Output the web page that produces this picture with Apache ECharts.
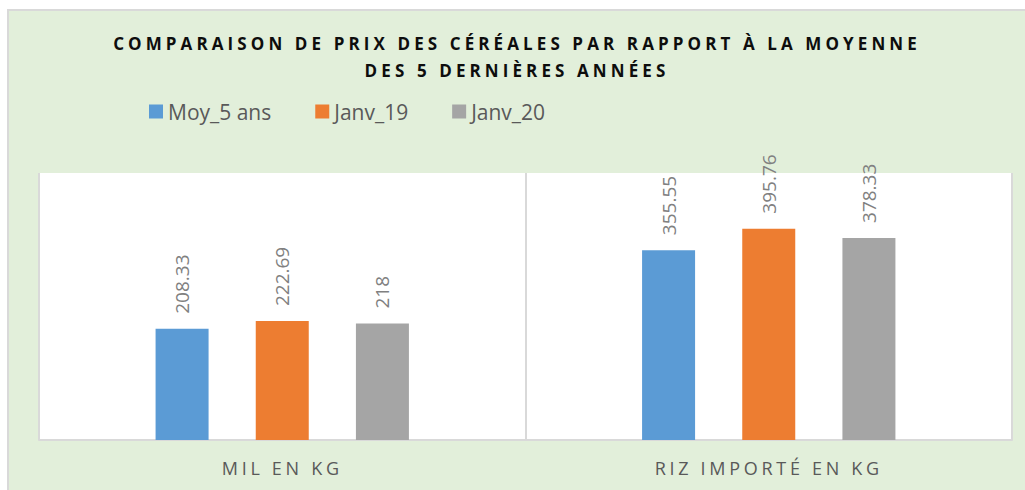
<!DOCTYPE html>
<html>
<head>
<meta charset="utf-8">
<script src="https://cdn.jsdelivr.net/npm/echarts@6/dist/echarts.min.js"></script>
<style>
  html, body { margin: 0; padding: 0; background: #fff; }
  #chart {
    position: absolute; left: 7px; top: 9px;
    width: 1016px; height: 479px;
    border-left: 2px solid #d9d9d9; border-top: 2px solid #d9d9d9;
    background: #e2efda;
  }
</style>
</head>
<body>
<div id="chart"></div>
<script>
const categories = ['MIL EN KG', 'RIZ IMPORTÉ EN KG'];
const seriesNames = ['Moy_5 ans', 'Janv_19', 'Janv_20'];
const moy5Ans = [208.33, 355.55];
const janv19 = [222.69, 395.76];
const janv20 = [218, 378.33];
const colors = ['#5b9bd5', '#ed7d31', '#a5a5a5'];

const titleLines = ['COMPARAISON DE PRIX DES CÉRÉALES PAR RAPPORT À LA MOYENNE', 'DES 5 DERNIÈRES ANNÉES'];

// echarts has no letter spacing, so it's patched onto the svg text afterwards
const spacing = {};
titleLines.forEach(t => spacing[t] = 4.1);
categories.forEach(t => spacing[t] = 3.7);

var chart = echarts.init(document.getElementById('chart'), null, { renderer: 'svg' });

function bar(name, data, i) {
  return {
    name: name,
    type: 'bar',
    data: data,
    barWidth: 53,
    barGap: '89%',
    itemStyle: { color: colors[i] },
    label: {
      show: true,
      position: 'top',
      rotate: 90,
      align: 'left',
      verticalAlign: 'middle',
      distance: 15,
      fontFamily: 'Open Sans',
      fontSize: 19,
      color: '#808080'
    }
  };
}

chart.setOption({
  animation: false,
  title: {
    text: titleLines.join('\n'),
    left: 'center',
    top: 14,
    padding: [5, 0, 5, 12],
    textStyle: {
      fontFamily: 'Open Sans',
      fontWeight: 'bold',
      fontSize: 17,
      lineHeight: 27,
      color: '#0d0d0d'
    }
  },
  legend: {
    left: 135,
    top: 85,
    icon: 'rect',
    itemWidth: 14,
    itemHeight: 14,
    itemGap: 44,
    textStyle: { fontFamily: 'Open Sans', fontSize: 21, color: '#595959' },
    data: seriesNames
  },
  grid: {
    left: 30, top: 162, width: 973, height: 267,
    show: true, backgroundColor: '#fff', borderWidth: 0
  },
  xAxis: {
    type: 'category',
    data: categories,
    axisLine: { lineStyle: { color: '#d9d9d9', width: 2 } },
    axisTick: { show: false },
    splitLine: { show: true, lineStyle: { color: '#d9d9d9', width: 2 } },
    axisLabel: { margin: 19, fontFamily: 'Open Sans', fontSize: 18, color: '#595959' }
  },
  yAxis: { type: 'value', min: 0, max: 500, show: false },
  series: [
    bar(seriesNames[0], moy5Ans, 0),
    bar(seriesNames[1], janv19, 1),
    bar(seriesNames[2], janv20, 2)
  ]
});

function spaceText() {
  chart.getDom().querySelectorAll('text').forEach(function (t) {
    var ls = spacing[t.textContent];
    if (ls) t.setAttribute('letter-spacing', ls);
  });
}
spaceText();
chart.on('finished', spaceText);
</script>
</body>
</html>
